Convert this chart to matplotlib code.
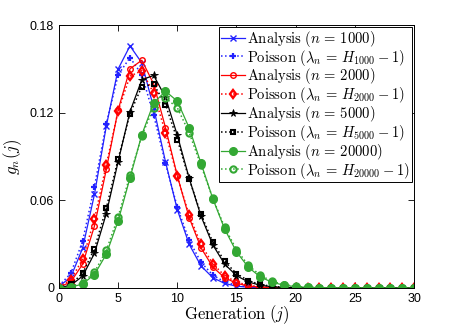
import matplotlib
matplotlib.use("Agg")
import matplotlib.pyplot as plt
import numpy as np

plt.rcParams['mathtext.fontset'] = 'cm'
plt.rcParams['font.family'] = ['Liberation Sans', 'DejaVu Sans']

j = list(range(0, 31))

ana_1000 = [0.0010, 0.0075, 0.0272, 0.0641, 0.1108, 0.1499, 0.1657, 0.1541, 0.1234, 0.0864,
            0.0536, 0.0299, 0.0151, 0.0070, 0.0031, 0.0012, 0.0005, 0.0002, 0.0001, 0.0000,
            0.0000, 0.0000, 0.0000, 0.0000, 0.0000, 0.0000, 0.0000, 0.0000, 0.0000, 0.0000, 0.0000]
poi_1000 = [0.0015, 0.0099, 0.0321, 0.0694, 0.1124, 0.1459, 0.1577, 0.1461, 0.1184, 0.0853,
            0.0553, 0.0326, 0.0176, 0.0088, 0.0041, 0.0018, 0.0007, 0.0003, 0.0001, 0.0000,
            0.0000, 0.0000, 0.0000, 0.0000, 0.0000, 0.0000, 0.0000, 0.0000, 0.0000, 0.0000, 0.0000]
ana_2000 = [0.0005, 0.0041, 0.0163, 0.0424, 0.0811, 0.1219, 0.1500, 0.1559, 0.1397, 0.1098,
            0.0767, 0.0482, 0.0275, 0.0143, 0.0070, 0.0032, 0.0013, 0.0005, 0.0002, 0.0001,
            0.0000, 0.0000, 0.0000, 0.0000, 0.0000, 0.0000, 0.0000, 0.0000, 0.0000, 0.0000, 0.0000]
poi_2000 = [0.0008, 0.0055, 0.0197, 0.0470, 0.0844, 0.1212, 0.1450, 0.1487, 0.1334, 0.1064,
            0.0764, 0.0498, 0.0298, 0.0165, 0.0084, 0.0040, 0.0018, 0.0008, 0.0003, 0.0001,
            0.0000, 0.0000, 0.0000, 0.0000, 0.0000, 0.0000, 0.0000, 0.0000, 0.0000, 0.0000, 0.0000]
ana_5000 = [0.0002, 0.0018, 0.0081, 0.0237, 0.0509, 0.0865, 0.1207, 0.1425, 0.1455, 0.1306,
            0.1045, 0.0752, 0.0492, 0.0295, 0.0163, 0.0084, 0.0041, 0.0019, 0.0008, 0.0003,
            0.0001, 0.0000, 0.0000, 0.0000, 0.0000, 0.0000, 0.0000, 0.0000, 0.0000, 0.0000, 0.0000]
poi_5000 = [0.0003, 0.0025, 0.0100, 0.0270, 0.0546, 0.0884, 0.1193, 0.1379, 0.1395, 0.1255,
            0.1016, 0.0747, 0.0504, 0.0314, 0.0182, 0.0098, 0.0050, 0.0024, 0.0011, 0.0005,
            0.0002, 0.0001, 0.0000, 0.0000, 0.0000, 0.0000, 0.0000, 0.0000, 0.0000, 0.0000, 0.0000]
ana_20000 = [0.0001, 0.0005, 0.0027, 0.0092, 0.0231, 0.0459, 0.0753, 0.1049, 0.1266, 0.1347,
             0.1279, 0.1096, 0.0854, 0.0611, 0.0403, 0.0247, 0.0142, 0.0076, 0.0039, 0.0019,
             0.0009, 0.0004, 0.0002, 0.0001, 0.0000, 0.0000, 0.0000, 0.0000, 0.0000, 0.0000, 0.0000]
poi_20000 = [0.0001, 0.0007, 0.0034, 0.0108, 0.0257, 0.0487, 0.0770, 0.1042, 0.1235, 0.1301,
             0.1234, 0.1063, 0.0840, 0.0613, 0.0415, 0.0262, 0.0155, 0.0087, 0.0046, 0.0023,
             0.0011, 0.0005, 0.0002, 0.0001, 0.0000, 0.0000, 0.0000, 0.0000, 0.0000, 0.0000, 0.0000]

BLUE = '#2222ff'
RED = '#ff0000'
BLACK = '#000000'
GREEN = '#33a833'

fig = plt.figure(figsize=(4.57, 3.25), dpi=100)
ax = fig.add_axes([0.129, 0.114, 0.777, 0.809])

ms = 4
mew = 1.0
ax.plot(j, ana_1000, '-', color=BLUE, marker='x', ms=ms, mew=mew, lw=0.9,
        label=r'$\mathrm{Analysis}\ (n\,=\,1000)$')
ax.plot(j, poi_1000, ':', color=BLUE, marker='+', ms=ms + 1, mew=mew + 0.6, lw=1.1,
        label=r'$\mathrm{Poisson}\ (\lambda_n\,=\,H_{1000}-1)$')
ax.plot(j, ana_2000, '-', color=RED, marker='o', ms=ms, mew=mew, mfc='none', lw=0.9,
        label=r'$\mathrm{Analysis}\ (n\,=\,2000)$')
ax.plot(j, poi_2000, ':', color=RED, marker='d', ms=ms + 0.5, mew=mew + 0.7, mfc='none', lw=1.1,
        label=r'$\mathrm{Poisson}\ (\lambda_n\,=\,H_{2000}-1)$')
ax.plot(j, ana_5000, '-', color=BLACK, marker='*', ms=ms + 1.5, mew=0.6, lw=0.9,
        label=r'$\mathrm{Analysis}\ (n\,=\,5000)$')
ax.plot(j, poi_5000, ':', color=BLACK, marker='s', ms=ms - 0.5, mew=mew + 0.5, mfc='none', lw=1.1,
        label=r'$\mathrm{Poisson}\ (\lambda_n\,=\,H_{5000}-1)$')
ax.plot(j, ana_20000, '-', color=GREEN, marker='o', ms=ms + 1.5, mew=mew, lw=0.9,
        label=r'$\mathrm{Analysis}\ (n\,=\,20000)$')
ax.plot(j, poi_20000, ':', color=GREEN, marker='o', ms=ms + 0.5, mew=mew + 0.5, mfc='none', lw=1.1,
        label=r'$\mathrm{Poisson}\ (\lambda_n\,=\,H_{20000}-1)$')

ax.set_xlim(0, 30)
ax.set_ylim(0, 0.18)
ax.set_xticks([0, 5, 10, 15, 20, 25, 30])
ax.set_yticks([0, 0.06, 0.12, 0.18])
ax.set_yticklabels(['0', '0.06', '0.12', '0.18'])
ax.tick_params(direction='in', top=True, right=True, labelsize=9, length=4, width=0.6)
for s in ax.spines.values():
    s.set_linewidth(0.7)

ax.set_xlabel(r'$\mathrm{Generation}\ (j)$', fontsize=12, labelpad=-1)
ax.set_ylabel(r'$g_n(j)$', fontsize=12, labelpad=4)

leg = ax.legend(loc='upper right', fontsize=10.5, frameon=True, fancybox=False,
                edgecolor='black', framealpha=1, borderpad=0.1, labelspacing=-0.08,
                handlelength=1.7, handletextpad=0.15, borderaxespad=0.15)
leg.get_frame().set_linewidth(0.7)

fig.savefig('out.png', dpi=100)
